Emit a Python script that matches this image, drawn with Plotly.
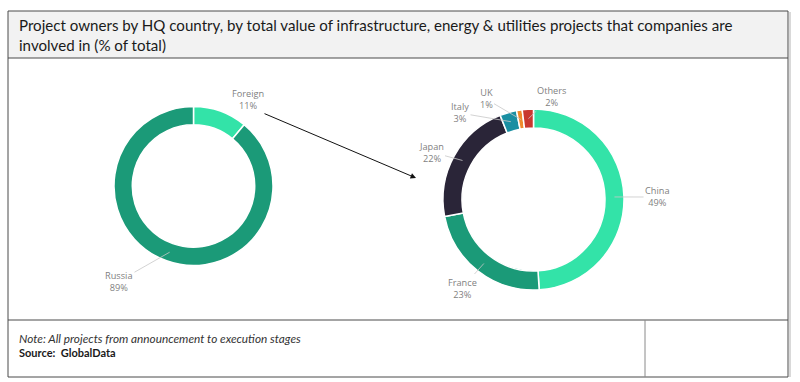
import math
import plotly.graph_objects as go

# ---- data ----
left_labels = ["Foreign", "Russia"]
left_values = [11, 89]
right_labels = ["China", "France", "Japan", "Italy", "UK", "Others"]
right_values = [49, 23, 22, 3, 1, 2]

title_text = ("Project owners by HQ country, by total value of infrastructure, energy & utilities projects that companies are"
              "<br>involved in (% of total)")
note_text = "Note: All projects from announcement to execution stages"
source_text = "Source:  GlobalData"

# ---- styles ----
W, H = 800, 382
left_colors = ["#33e3a8", "#1b9a78"]
right_colors = ["#33e3a8", "#1b9a78", "#2a2538", "#1a8fa2", "#f0892b", "#c9372f"]

L_CX, L_CY, L_R, L_HOLE = 193.5, 186.0, 79.5, 0.77
R_CX, R_CY, R_R, R_HOLE = 533.5, 199.5, 90.5, 0.79

# label text centres (pixels) per slice
left_label_pos = [(248, 99), (119, 281)]
left_label_arrow = [False, True]
right_label_pos = [(657, 197), (462, 288), (431, 152), (460, 113), (486, 99), (551, 97)]
right_label_arrow = [True, True, True, True, True, True]

LABEL_FONT = dict(family="Open Sans", size=9.2, color="#7f7f7f")
LEADER = "#c8c8c8"


def domain(cx, cy, r):
    return dict(x=[(cx - r) / W, (cx + r) / W],
                y=[(H - cy - r) / H, (H - cy + r) / H])


fig = go.Figure()
for labels, values, colors, cx, cy, r, hole in [
    (left_labels, left_values, left_colors, L_CX, L_CY, L_R, L_HOLE),
    (right_labels, right_values, right_colors, R_CX, R_CY, R_R, R_HOLE),
]:
    fig.add_trace(go.Pie(
        labels=labels, values=values, hole=hole, sort=False,
        direction="clockwise", rotation=0, textinfo="none",
        marker=dict(colors=colors, line=dict(color="white", width=1.5)),
        domain=domain(cx, cy, r), showlegend=False, hoverinfo="label+percent",
    ))

annotations = []


def add_labels(labels, values, cx, cy, r, hole, positions, arrows):
    total = float(sum(values))
    cum = 0.0
    r_mid = r * (1 + hole) / 2
    for lab, v, (lx, ly), arrow in zip(labels, values, positions, arrows):
        theta = 2 * math.pi * (cum + v / 2) / total
        cum += v
        tx = cx + r_mid * math.sin(theta)
        ty = cy - r_mid * math.cos(theta)
        text = f"{lab}<br>{v}%"
        if arrow:
            annotations.append(dict(
                x=tx / W, y=1 - ty / H, xref="paper", yref="paper",
                ax=lx - tx, ay=ly - ty, text=text, showarrow=True,
                arrowhead=0, arrowwidth=0.8, arrowcolor=LEADER, standoff=0,
                font=LABEL_FONT, align="center"))
        else:
            annotations.append(dict(
                x=lx / W, y=1 - ly / H, xref="paper", yref="paper",
                text=text, showarrow=False, font=LABEL_FONT, align="center",
                xanchor="center", yanchor="middle"))


add_labels(left_labels, left_values, L_CX, L_CY, L_R, L_HOLE, left_label_pos, left_label_arrow)
add_labels(right_labels, right_values, R_CX, R_CY, R_R, R_HOLE, right_label_pos, right_label_arrow)

# black arrow linking the "Foreign" slice to the breakdown
annotations.append(dict(
    x=416 / W, y=1 - 178 / H, xref="paper", yref="paper",
    ax=263 - 416, ay=113 - 178, text="", showarrow=True,
    arrowhead=2, arrowsize=1.1, arrowwidth=1, arrowcolor="#111111", standoff=0))

# title
annotations.append(dict(
    x=17 / W, y=1 - 35 / H, xref="paper", yref="paper", xanchor="left", yanchor="middle",
    text=title_text, showarrow=False, align="left",
    font=dict(family="Lato", size=15.1, color="#1a1a1a")))
# footer
annotations.append(dict(
    x=17 / W, y=1 - 338 / H, xref="paper", yref="paper", xanchor="left", yanchor="middle",
    text=f"<i>{note_text}</i>", showarrow=False,
    font=dict(family="Lato", size=11.8, color="#333333")))
annotations.append(dict(
    x=17 / W, y=1 - 352 / H, xref="paper", yref="paper", xanchor="left", yanchor="middle",
    text=f"<b>{source_text}</b>", showarrow=False,
    font=dict(family="Lato", size=11, color="#1a1a1a")))


def px(x):
    return x / W


def py(y):
    return 1 - y / H


BORDER = "#4a4a4a"
shapes = [
    # title band
    dict(type="rect", xref="paper", yref="paper", x0=px(8), x1=px(788), y0=py(58), y1=py(11),
         fillcolor="#f2f2f2", line=dict(width=0), layer="below"),
    # outer frame
    dict(type="rect", xref="paper", yref="paper", x0=px(8), x1=px(788), y0=py(377), y1=py(11),
         line=dict(color=BORDER, width=1)),
    # shadow on right edge
    dict(type="line", xref="paper", yref="paper", x0=px(790), x1=px(790), y0=py(377), y1=py(12),
         line=dict(color="#cccccc", width=1.5)),
    dict(type="line", xref="paper", yref="paper", x0=px(8), x1=px(788), y0=py(58), y1=py(58),
         line=dict(color=BORDER, width=1)),
    dict(type="line", xref="paper", yref="paper", x0=px(8), x1=px(788), y0=py(320), y1=py(320),
         line=dict(color=BORDER, width=1)),
    dict(type="line", xref="paper", yref="paper", x0=px(645), x1=px(645), y0=py(377), y1=py(320),
         line=dict(color="#8a8a8a", width=1)),
]

fig.update_layout(
    width=W, height=H, margin=dict(l=0, r=0, t=0, b=0),
    paper_bgcolor="white", plot_bgcolor="white",
    annotations=annotations, shapes=shapes,
)

fig.write_html("out.html", config={"displayModeBar": False},
               post_script="document.body.style.margin='0';")
